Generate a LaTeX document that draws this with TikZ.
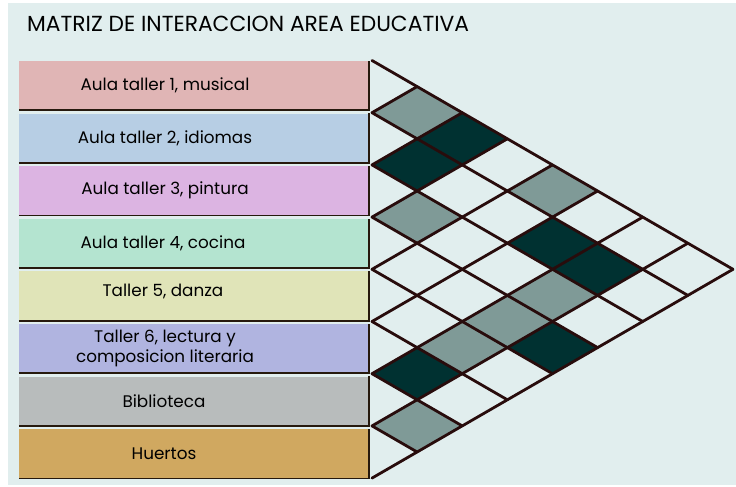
\documentclass[tikz,border=0pt]{standalone}
\usepackage{fontspec}
\setmainfont{Poppins}
\usetikzlibrary{positioning}
\definecolor{fondo}{RGB}{225,238,238}
\definecolor{rosa}{RGB}{224,181,181}
\definecolor{celeste}{RGB}{183,206,228}
\definecolor{lila}{RGB}{220,180,226}
\definecolor{menta}{RGB}{180,228,208}
\definecolor{crema}{RGB}{224,228,184}
\definecolor{lavanda}{RGB}{176,180,224}
\definecolor{gris}{RGB}{184,188,188}
\definecolor{ocre}{RGB}{208,168,96}
\definecolor{verdegris}{RGB}{127,154,151}
\definecolor{verdeoscuro}{RGB}{0,49,49}
\definecolor{linea}{RGB}{40,12,12}
\tikzset{
    caja/.style={minimum width=350pt, minimum height=49pt, inner sep=0pt},
    sombra/.style={draw=black!80!brown, line width=1.8pt},
    rejilla/.style={draw=linea, line width=2.8pt, line cap=round, line join=round},
    etiqueta/.style={font=\fontsize{16.8}{19.5}\selectfont, align=center}
}
\newcommand{\celda}[3]{\fill[#3] ({#2-#1-1},{#1+#2+1}) -- ({#2-#1},{#1+#2}) -- ({#2-#1+1},{#1+#2+1}) -- ({#2-#1},{#1+#2+2}) -- cycle;}

\begin{document}
\begin{tikzpicture}[x=1pt, y=-1pt]
    \useasboundingbox (0,0) rectangle (736,487);
    \fill[fondo] (8,3) rectangle (736,485);
    \node[anchor=base west, inner sep=0pt, font=\fontsize{21.8}{24}\selectfont] (titulo) at (27,31.5) {MATRIZ DE INTERACCION AREA EDUCATIVA};

    \node[caja, fill=rosa] (c1) at (194,85.5) {};
    \node[caja, fill=celeste, below=3.2pt of c1] (c2) {};
    \node[caja, fill=lila, below=3.2pt of c2] (c3) {};
    \node[caja, fill=menta, below=3.2pt of c3] (c4) {};
    \node[caja, fill=crema, below=3.2pt of c4] (c5) {};
    \node[caja, fill=lavanda, below=3.2pt of c5] (c6) {};
    \node[caja, fill=gris, below=3.2pt of c6] (c7) {};
    \node[caja, fill=ocre, below=3.2pt of c7] (c8) {};
    \foreach \n in {c1,c2,c3,c4,c5,c6,c7,c8}
        \draw[sombra] (\n.south west) -- (\n.south east) -- (\n.north east);

    \node[etiqueta] (t1) at ([xshift=-29pt]c1.center) {Aula taller 1, musical};
    \node[etiqueta] (t2) at ([xshift=-29pt]c2.center) {Aula taller 2, idiomas};
    \node[etiqueta] (t3) at ([xshift=-29pt]c3.center) {Aula taller 3, pintura};
    \node[etiqueta] (t4) at ([xshift=-31pt]c4.center) {Aula taller 4, cocina};
    \node[etiqueta] (t5) at ([xshift=-31pt, yshift=4pt]c5.center) {Taller 5, danza};
    \node[etiqueta] (t6) at ([xshift=-29pt]c6.center) {Taller 6, lectura y\\composicion literaria};
    \node[etiqueta] (t7) at ([xshift=-30pt]c7.center) {Biblioteca};
    \node[etiqueta] (t8) at ([xshift=-30pt]c8.center) {Huertos};

    \begin{scope}[shift={(372,60.5)}, x=45.125pt, y=-26.1pt]
        \celda{0}{1}{verdegris}
        \celda{0}{2}{verdeoscuro}
        \celda{1}{2}{verdeoscuro}
        \celda{0}{4}{verdegris}
        \celda{2}{3}{verdegris}
        \celda{1}{5}{verdeoscuro}
        \celda{1}{6}{verdeoscuro}
        \celda{2}{6}{verdegris}
        \celda{3}{6}{verdegris}
        \celda{4}{6}{verdegris}
        \celda{3}{7}{verdeoscuro}
        \celda{5}{6}{verdeoscuro}
        \celda{6}{7}{verdegris}
        \foreach \k in {0,...,8}
            \draw[rejilla] ({8-\k},{8+\k}) -- (0,{2*\k}) -- (\k,\k);
    \end{scope}
\end{tikzpicture}
\end{document}
